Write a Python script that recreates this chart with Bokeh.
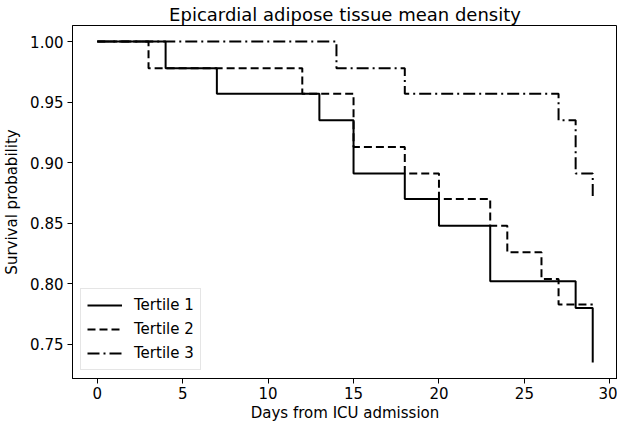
from bokeh.plotting import figure
from bokeh.models import FixedTicker, NumeralTickFormatter, Legend, LegendItem, Range1d
from bokeh.embed import file_html
from bokeh.resources import INLINE

# Kaplan-Meier step data
t1_days = [0, 4, 7, 13, 15, 18, 20, 23, 28, 29]
t1_surv = [1.0, 0.978, 0.957, 0.935, 0.891, 0.870, 0.848, 0.802, 0.780, 0.735]

t2_days = [0, 3, 12, 15, 18, 20, 23, 24, 26, 27, 29]
t2_surv = [1.0, 0.978, 0.957, 0.913, 0.891, 0.870, 0.848, 0.826, 0.804, 0.783, 0.783]

t3_days = [0, 14, 18, 27, 28, 29]
t3_surv = [1.0, 0.978, 0.957, 0.935, 0.891, 0.870]

series_names = ["Tertile 1", "Tertile 2", "Tertile 3"]
x_ticks = [0, 5, 10, 15, 20, 25, 30]
y_ticks = [0.75, 0.80, 0.85, 0.90, 0.95, 1.00]

FONT = "DejaVu Sans"

p = figure(width=617, height=424, output_backend="svg", toolbar_location=None,
           x_range=Range1d(-1.45, 30.45), y_range=Range1d(0.7218, 1.01325),
           min_border_left=64, min_border_right=0, min_border_top=17, min_border_bottom=0)

p.title.text = "Epicardial adipose tissue mean density"
p.title.align = "center"
p.title.text_font = FONT
p.title.text_font_size = "18px"
p.title.text_font_style = "normal"
p.title.text_color = "#000000"
p.title.standoff = 2

p.xgrid.visible = False
p.ygrid.visible = False
p.outline_line_color = "#000000"
p.outline_line_width = 1
p.outline_line_alpha = 1

r1 = p.step(t1_days, t1_surv, mode="after", line_color="black", line_width=2)
r2 = p.step(t2_days, t2_surv, mode="after", line_color="black", line_width=2, line_dash="8 4")
r3 = p.step(t3_days, t3_surv, mode="after", line_color="black", line_width=2, line_dash="12 4 2 4")

for ax in (p.xaxis[0], p.yaxis[0]):
    ax.axis_line_color = "#000000"
    ax.major_tick_line_color = "#000000"
    ax.major_tick_out = 5
    ax.major_tick_in = 0
    ax.minor_tick_line_color = None
    ax.major_label_text_font = FONT
    ax.major_label_text_font_size = "15px"
    ax.major_label_text_color = "#000000"
    ax.axis_label_text_font = FONT
    ax.axis_label_text_font_size = "15px"
    ax.axis_label_text_font_style = "normal"
    ax.axis_label_text_color = "#000000"
    ax.major_label_standoff = 4

p.xaxis.ticker = FixedTicker(ticks=x_ticks)
p.yaxis.ticker = FixedTicker(ticks=y_ticks)
p.yaxis.formatter = NumeralTickFormatter(format="0.00")
p.xaxis.axis_label = "Days from ICU admission"
p.yaxis.axis_label = "Survival probability"
p.xaxis.major_label_standoff = 3
p.xaxis.axis_label_standoff = 2
p.yaxis.axis_label_standoff = 6

legend = Legend(items=[LegendItem(label=series_names[0], renderers=[r1]),
                       LegendItem(label=series_names[1], renderers=[r2]),
                       LegendItem(label=series_names[2], renderers=[r3])],
                location="bottom_left")
legend.label_text_font = FONT
legend.label_text_font_size = "15px"
legend.label_text_color = "#000000"
legend.glyph_width = 35
legend.glyph_height = 20
legend.label_height = 20
legend.label_standoff = 12
legend.spacing = 4
legend.padding = 6
legend.margin = 8
legend.border_line_color = "#cccccc"
legend.border_line_width = 1
legend.background_fill_alpha = 0.8
p.add_layout(legend)

open("out.html", "w").write(file_html(p, INLINE))
